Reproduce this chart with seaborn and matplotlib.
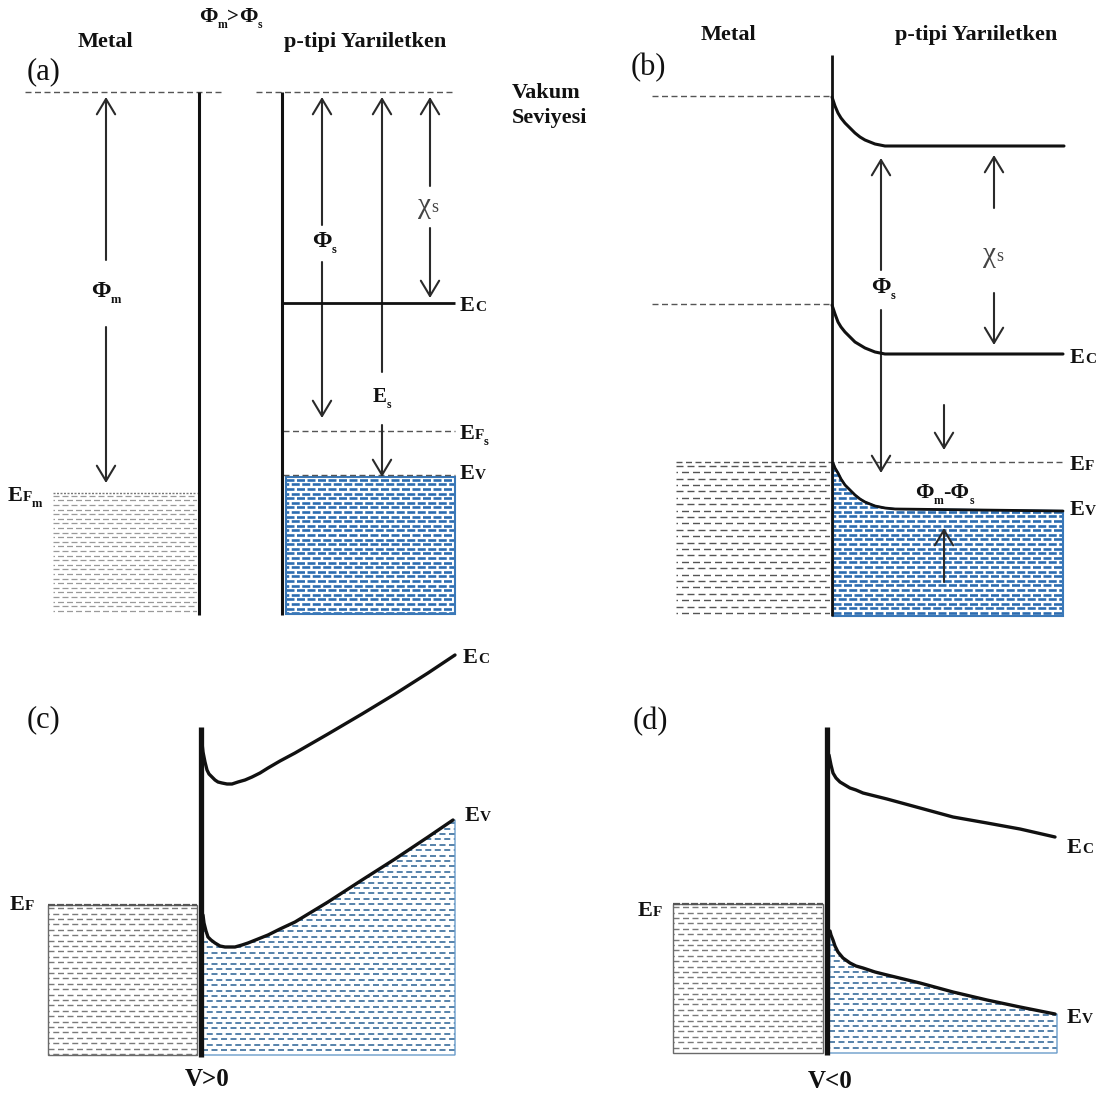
import numpy as np
import matplotlib
matplotlib.use("Agg")
import matplotlib.pyplot as plt
from matplotlib.patches import Polygon
import seaborn as sns

sns.set_style("white")
plt.rcParams["font.family"] = ["Liberation Serif", "DejaVu Serif"]
plt.rcParams["lines.scale_dashes"] = False
plt.rcParams["lines.solid_joinstyle"] = "round"
plt.rcParams["lines.solid_capstyle"] = "round"

# ---------------------------------------------------------------
# Energy levels (screen rows: larger value = lower energy)
# ---------------------------------------------------------------
# (a) before contact
vacuum_a = 92
ef_metal_a = 493
ec_a = 303
ef_semi_a = 431
ev_a = 475

# (b) in equilibrium after contact
vacuum_b = 96
ec_edge_b = 304
ef_b = 462
b_vac_x = [832, 835, 838, 841, 845, 850, 855, 860, 865, 870, 875, 880, 885, 895, 1064]
b_vac_y = [97, 106, 113, 118, 123, 128, 133, 137, 140, 142, 144, 145, 146, 146, 146]
b_ec_x = [832, 835, 838, 841, 845, 850, 855, 860, 865, 870, 875, 880, 885, 895, 1063]
b_ec_y = [305, 314, 322, 327, 332, 337, 342, 345, 348, 350, 352, 353, 354, 354, 354]
b_ev_x = [833, 835, 838, 841, 845, 850, 855, 860, 865, 870, 875, 880, 885, 895, 1063]
b_ev_y = [463, 468, 473, 479, 485, 490, 495, 499, 502, 504, 506, 507, 508, 509, 511]

# (c) forward bias V>0
ef_c = 905
c_ec_x = [202, 203, 205, 207, 209, 212, 215, 218, 222, 227, 232, 238, 245, 252, 260,
          268, 280, 295, 328, 362, 395, 428, 455]
c_ec_y = [743, 752, 762, 770, 774, 777, 780, 782, 783, 784, 784, 782, 780, 777, 773,
          768, 761, 753, 734, 714, 694, 673, 655]
c_ev_x = [203, 204, 206, 208, 211, 215, 220, 225, 230, 235, 242, 248, 258, 268, 280,
          295, 328, 362, 395, 428, 453]
c_ev_y = [915, 923, 931, 937, 940, 943, 946, 947, 947, 947, 945, 943, 939, 935, 929,
          922, 902, 880, 859, 837, 820]

# (d) reverse bias V<0
ef_d = 904
d_ec_x = [829, 831, 833, 836, 840, 845, 850, 856, 863, 875, 887, 920, 953, 987, 1020, 1055]
d_ec_y = [755, 765, 773, 778, 782, 785, 788, 790, 793, 796, 799, 808, 817, 823, 829, 837]
d_ev_x = [830, 831, 833, 835, 838, 843, 850, 856, 863, 875, 887, 920, 953, 987, 1020, 1055]
d_ev_y = [931, 935, 940, 946, 952, 958, 963, 966, 968, 972, 975, 983, 992, 1000, 1007, 1014]

INK = "#111111"
ARROW = "#2a2a2a"
DASH = "#555555"

fig = plt.figure(figsize=(11.11, 10.99), dpi=100)
ax = fig.add_axes([0, 0, 1, 1])
ax.set_xlim(0, 1111)
ax.set_ylim(1099, 0)
ax.axis("off")

PX = 0.72  # pixels -> points at 100 dpi


def hline(x0, x1, y, color=DASH, lw=1.0, on=6, off=3.5, z=4):
    ax.plot([x0, x1], [y, y], color=color, lw=lw,
            linestyle=(0, (on * PX, off * PX)), zorder=z)


def vline(x, y0, y1, lw=2.2, color=INK):
    ax.plot([x, x], [y0, y1], color=color, lw=lw, zorder=6,
            solid_capstyle="butt")


def dashed_fill(xs, ys, color, step, on, off, lw, edge=None, edge_lw=1.0):
    pts = np.column_stack([xs, ys])
    base = Polygon(pts, closed=True, facecolor="white", edgecolor="none", zorder=1)
    ax.add_patch(base)
    top, bottom = min(ys), max(ys)
    left, right = min(xs), max(xs)
    rows = np.arange(top + step * 0.6, bottom, step)
    for i, yr in enumerate(rows):
        off0 = 0 if i % 2 == 0 else (on + off) / 2
        ln, = ax.plot([left, right], [yr, yr], color=color, lw=lw,
                      linestyle=(off0 * PX, (on * PX, off * PX)), zorder=2,
                      dash_capstyle="butt")
        ln.set_clip_path(base)
    if edge is not None:
        ax.add_patch(Polygon(pts, closed=True, facecolor="none",
                             edgecolor=edge, lw=edge_lw, zorder=3))


def arrow(x, y_from, y_to, lw=1.5):
    ax.annotate("", xy=(x, y_to), xytext=(x, y_from),
                arrowprops=dict(arrowstyle="->,head_length=0.55,head_width=0.33",
                                mutation_scale=20, lw=lw, color=ARROW,
                                shrinkA=0, shrinkB=0), zorder=5)


def band(xs, ys, lw):
    sns.lineplot(x=xs, y=ys, ax=ax, color=INK, lw=lw, sort=False,
                 estimator=None, zorder=6)


def chain(x, y, parts, color=INK):
    """Draw a run of text pieces; each piece is (text, size, dy, weight)."""
    prev = None
    for txt, size, dy, weight in parts:
        if prev is None:
            prev = ax.text(x, y + dy, txt, fontsize=size, fontweight=weight,
                           ha="left", va="baseline", color=color, zorder=7)
        else:
            prev = ax.annotate(txt, xy=(1.0, y + dy), xycoords=(prev, "data"),
                               fontsize=size, fontweight=weight, ha="left",
                               va="baseline", color=color, zorder=7)
    return prev


def elabel(x, y, small, sub=None):
    parts = [("E", 16, 0, "bold"), (small, 11, 0, "bold")]
    if sub:
        parts.append((sub, 9, 6, "bold"))
    chain(x, y, parts)


def phi(x, y, sub):
    chain(x, y, [("Φ", 17, 0, "bold"), (sub, 9, 6, "bold")])


def chi(x, y):
    chain(x, y, [("χ", 21, 0, "normal"), ("s", 13, -1, "normal")], color="#444444")


def title(x, y, s, size=16, weight="bold"):
    ax.text(x, y, s, fontsize=size, fontweight=weight, ha="center",
            va="center", color=INK, zorder=7)


# ---------------------------------------------------------------
# (a) metal and p-type semiconductor apart
# ---------------------------------------------------------------
title(105, 42, "Metal")
title(365, 42, "p-tipi Yarıiletken")
title(44, 72, "(a)", size=22, weight="normal")
chain(199, 22, [("Φ", 16, 0, "bold"), ("m", 8.5, 6, "bold"),
                (">", 15, 0, "bold"), ("Φ", 16, 0, "bold"), ("s", 8.5, 6, "bold")])
ax.text(512, 93, "Vakum", fontsize=16, fontweight="bold", ha="left", va="center", color=INK)
ax.text(512, 118, "Seviyesi", fontsize=16, fontweight="bold", ha="left", va="center", color=INK)

hline(25, 224, vacuum_a)
hline(256, 455, vacuum_a)
vline(199, vacuum_a, 615)
vline(282, vacuum_a, 615)

# metal electrons
dashed_fill([53, 197, 197, 53], [ef_metal_a, ef_metal_a, 615, 615],
            color="#9a9a9a", step=4.6, on=6, off=3, lw=0.9)
hline(53, 197, ef_metal_a, color="#777777", lw=1.0, on=2, off=1.5)
elabel(8, ef_metal_a + 8, "F", "m")

# semiconductor valence band
dashed_fill([286, 455, 455, 286], [ev_a + 2, ev_a + 2, 614, 614],
            color="#2c6cb0", step=4.6, on=8, off=2.5, lw=1.9,
            edge="#3a78b8", edge_lw=1.5)
ax.plot([282, 455], [ec_a, ec_a], color=INK, lw=2.0, zorder=6,
        solid_capstyle="butt")
hline(283, 455, ef_semi_a)
hline(283, 455, ev_a)
elabel(460, ec_a + 8, "C")
elabel(460, ef_semi_a + 8, "F", "s")
elabel(460, ev_a + 4, "V")

arrow(106, 260, vacuum_a + 5)
arrow(106, 327, ef_metal_a - 10)
phi(91, 297, "m")

arrow(322, 225, vacuum_a + 5)
arrow(322, 262, ef_semi_a - 13)
phi(312, 247, "s")

arrow(382, 372, vacuum_a + 5)
arrow(382, 425, ev_a + 2)
chain(373, 402, [("E", 15, 0, "bold"), ("s", 8.5, 6, "bold")])

arrow(430, 186, vacuum_a + 5)
arrow(430, 228, ec_a - 5)
chi(418, 213)

# ---------------------------------------------------------------
# (b) contact, thermal equilibrium
# ---------------------------------------------------------------
title(728, 35, "Metal")
title(976, 35, "p-tipi Yarıiletken")
title(648, 68, "(b)", size=22, weight="normal")

vline(832, 55, 616, lw=2.0)
hline(652, 832, vacuum_b)
hline(652, 832, ec_edge_b)

dashed_fill([676, 830, 830, 676], [ef_b, ef_b, 616, 616],
            color="#555555", step=6.4, on=7, off=4, lw=1.0)
dashed_fill(b_ev_x + [1063, 833], b_ev_y + [616, 616],
            color="#2c6cb0", step=4.6, on=8, off=2.5, lw=1.9,
            edge="#3a78b8", edge_lw=1.5)
hline(676, 1062, ef_b, z=4)

band(b_vac_x, b_vac_y, 2.2)
band(b_ec_x, b_ec_y, 2.2)
band(b_ev_x, b_ev_y, 2.0)

elabel(1070, 363, "C")
elabel(1070, 470, "F")
elabel(1070, 515, "V")

arrow(881, 270, 158)
arrow(881, 310, 473)
phi(871, 293, "s")

arrow(994, 208, 155)
arrow(994, 293, 345)
chi(983, 262)

arrow(944, 405, 450)
arrow(944, 582, 528)
chain(915, 498, [("Φ", 16, 0, "bold"), ("m", 8.5, 6, "bold"),
                 ("-Φ", 16, 0, "bold"), ("s", 8.5, 6, "bold")])

# ---------------------------------------------------------------
# (c) forward bias
# ---------------------------------------------------------------
title(43, 720, "(c)", size=22, weight="normal")
dashed_fill([48, 197, 197, 48], [ef_c, ef_c, 1055, 1055],
            color="#7a7a7a", step=5.4, on=6, off=3.5, lw=1.0,
            edge="#6a6a6a", edge_lw=1.0)
hline(48, 197, ef_c, color="#555555", lw=1.6, on=7, off=2)
dashed_fill(c_ev_x + [455, 455, 202, 202], c_ev_y + [c_ev_y[-1], 1055, 1055, 907],
            color="#3a6d9c", step=5.4, on=6, off=3.5, lw=1.2,
            edge="#6a9ccb", edge_lw=1.0)
vline(201, 727, 1057, lw=3.8)
band(c_ec_x, c_ec_y, 2.4)
band(c_ev_x, c_ev_y, 2.4)
elabel(463, 663, "C")
elabel(465, 821, "V")
elabel(10, 910, "F")
title(207, 1080, "V>0", size=18)

# ---------------------------------------------------------------
# (d) reverse bias
# ---------------------------------------------------------------
title(650, 722, "(d)", size=22, weight="normal")
dashed_fill([673, 823, 823, 673], [ef_d, ef_d, 1053, 1053],
            color="#7a7a7a", step=5.4, on=6, off=3.5, lw=1.0,
            edge="#6a6a6a", edge_lw=1.0)
hline(673, 823, ef_d, color="#555555", lw=1.6, on=7, off=2)
dashed_fill(d_ev_x + [1057, 1057, 829], d_ev_y + [d_ev_y[-1], 1053, 1053],
            color="#3a6d9c", step=5.4, on=6, off=3.5, lw=1.2,
            edge="#6a9ccb", edge_lw=1.0)
vline(827, 727, 1055, lw=3.8)
band(d_ec_x, d_ec_y, 2.4)
band(d_ev_x, d_ev_y, 2.4)
elabel(1067, 853, "C")
elabel(1067, 1023, "V")
elabel(638, 916, "F")
title(830, 1082, "V<0", size=18)

ax.set_xlim(0, 1111)
ax.set_ylim(1099, 0)
fig.savefig("out.png", dpi=100, facecolor="white")
